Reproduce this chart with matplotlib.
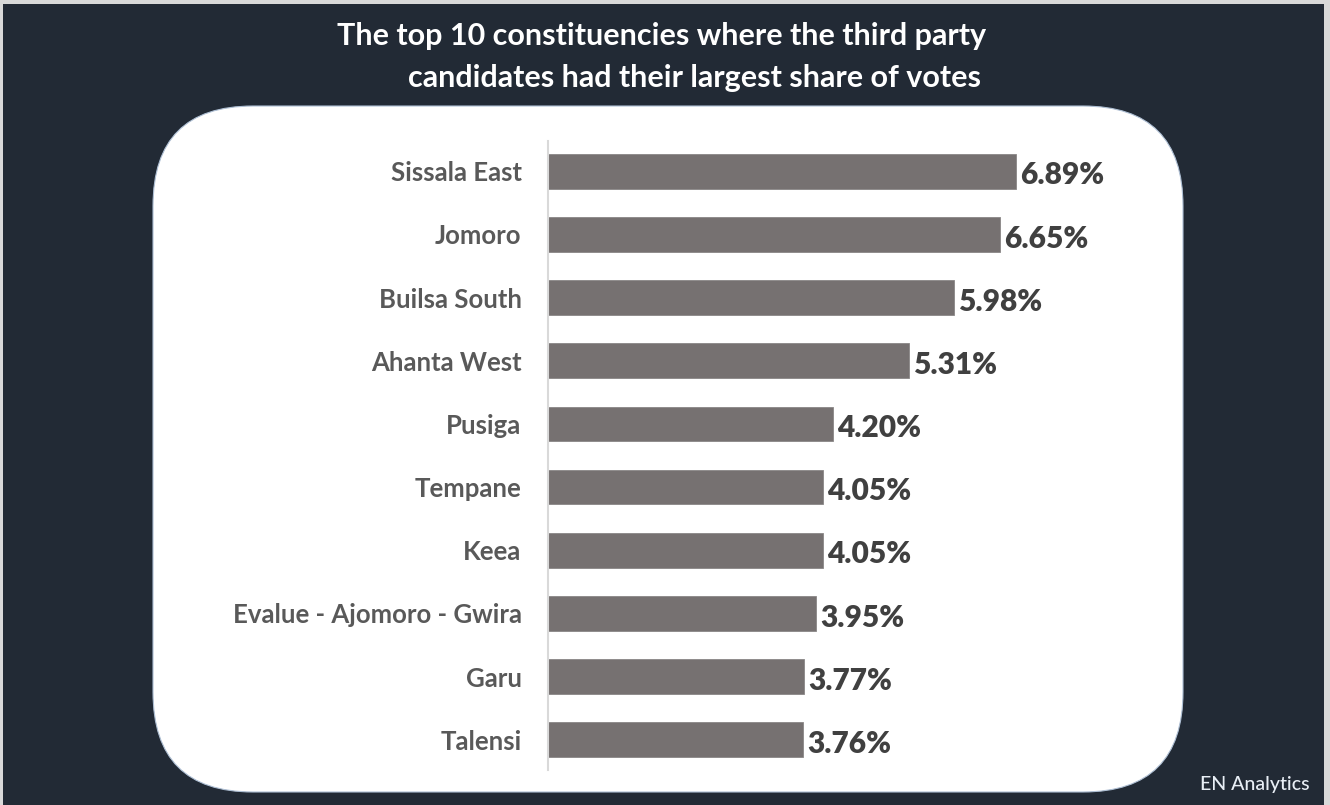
import matplotlib
matplotlib.use("Agg")
import matplotlib.pyplot as plt
from matplotlib.patches import FancyBboxPatch, Rectangle

# Data
constituencies = ["Sissala East", "Jomoro", "Builsa South", "Ahanta West", "Pusiga",
                  "Tempane", "Keea", "Evalue - Ajomoro - Gwira", "Garu", "Talensi"]
vote_share = [6.89, 6.65, 5.98, 5.31, 4.20, 4.05, 4.05, 3.95, 3.77, 3.76]
title_lines = ["The top 10 constituencies where the third party",
               "candidates had their largest share of votes"]
credit = "EN Analytics"

FONT = ["Lato", "DejaVu Sans"]
W, H = 1330, 805
fig = plt.figure(figsize=(W / 100, H / 100), dpi=100)
fig.patch.set_facecolor("#d9d9d9")

# Background canvas in pixel coordinates
bg = fig.add_axes([0, 0, 1, 1])
bg.set_xlim(0, W)
bg.set_ylim(H, 0)
bg.axis("off")
bg.add_patch(Rectangle((3, 4), 1321, 801, facecolor="#222a35", edgecolor="none"))
bg.add_patch(FancyBboxPatch((153, 106), 1030, 686,
                            boxstyle="round,pad=0,rounding_size=100",
                            facecolor="white", edgecolor="#aebfd4", linewidth=0.8))

bg.text(662, 36, title_lines[0], color="white", fontsize=22, fontweight="bold",
        ha="center", va="center", family=FONT)
bg.text(694, 78, title_lines[1], color="white", fontsize=22, fontweight="bold",
        ha="center", va="center", family=FONT)
bg.text(1310, 784, credit, color="#e8eef5", fontsize=14, fontweight="medium",
        ha="right", va="center", family=FONT)

# Bar chart
ax = fig.add_axes([548 / W, (H - 770) / H, 600 / W, 629 / H])
ax.set_facecolor("none")
y = range(len(constituencies))
ax.barh(y, vote_share, height=0.55, color="#767171", edgecolor="#8a8686", linewidth=0.6)
ax.set_xlim(0, 600 / 67.9)
ax.set_ylim(len(constituencies) - 0.52, -0.48)
ax.set_yticks(list(y))
ax.set_yticklabels(constituencies, fontsize=18.5, fontweight="bold", color="#595959",
                   family=FONT)
ax.tick_params(axis="y", length=0, pad=19)
ax.set_xticks([])
for s in ["top", "right", "bottom"]:
    ax.spines[s].set_visible(False)
ax.spines["left"].set_color("#d9d9d9")
ax.spines["left"].set_linewidth(1.5)

for yi, v in zip(y, vote_share):
    ax.annotate(f"{v:.2f}%", (v, yi), xytext=(3, -3), textcoords="offset points",
                ha="left", va="center", fontsize=21.5, fontweight="heavy",
                color="#404040", family=FONT)

fig.savefig("out.png", dpi=100, facecolor=fig.get_facecolor())
